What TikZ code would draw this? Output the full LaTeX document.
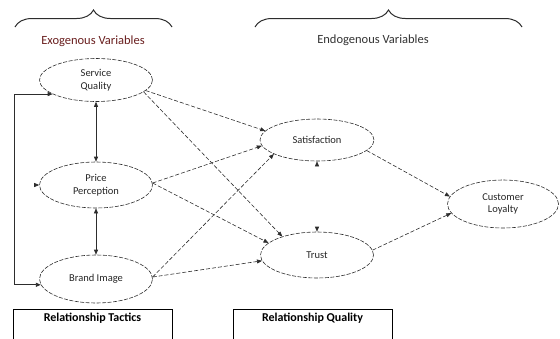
\documentclass[tikz,border=0pt]{standalone}
\usepackage{fontspec}
\setmainfont{Carlito}
\usepackage{xcolor}
\usetikzlibrary{shapes.geometric,arrows.meta,decorations.pathreplacing}
\definecolor{exored}{RGB}{105,30,30}
\definecolor{linegray}{RGB}{45,45,45}

\begin{document}
\begin{tikzpicture}[x=1pt,y=-1pt,
  var/.style={ellipse,draw=linegray,dash pattern=on 4pt off 1.5pt,line width=0.6pt,
    minimum width=113pt,minimum height=43pt,inner sep=0pt,align=center,
    font=\fontsize{10.5}{12.5}\selectfont,text=black!85},
  path/.style={-{Triangle[length=5pt,width=4pt]},draw=linegray,line width=0.6pt,
    dash pattern=on 4pt off 2pt},
  link/.style={{Triangle[length=5pt,width=4pt]}-{Triangle[length=5pt,width=4pt]},
    draw=linegray,line width=0.6pt},
  feed/.style={-{Triangle[length=5pt,width=4pt]},draw=linegray,line width=0.9pt},
  tiponly/.style={draw=linegray,line width=0.6pt,dash pattern=on 0pt off 200pt},
  grp/.style={draw=linegray,line width=1pt,
    decorate,decoration={brace,amplitude=17pt}},
  head/.style={font=\fontsize{12.5}{14}\selectfont},
  relbox/.style={draw=black,line width=0.8pt,anchor=north,minimum width=159pt,
    inner ysep=4pt,text depth=30pt,font=\bfseries\fontsize{12}{14}\selectfont}]
\useasboundingbox (0,0) rectangle (560,338);

% group braces and headers
\draw[grp] (15,27) -- (172,27);
\draw[grp] (255,27) -- (522,27);
\node[head,text=exored] (exo) at (93,41) {Exogenous Variables};
\node[head,text=black!80] (endo) at (373,40) {Endogenous Variables};

% latent variables
\node[var] (sq) at (96,80) {Service\\Quality};
\node[var,minimum height=46pt] (pp) at (96,185) {Price\\Perception};
\node[var,minimum height=48pt] (bi) at (96,279) {Brand Image};
\node[var,minimum width=114pt,minimum height=42pt] (sat) at (317,140) {Satisfaction};
\node[var,minimum width=113pt,minimum height=46pt] (trust) at (317,255) {Trust};
\node[var,minimum width=111pt,minimum height=48pt] (cl) at (503,204) {Customer\\Loyalty};

% bottom boxes
\node[relbox] (tactics) at (92.5,309) {Relationship Tactics};
\node[relbox] (quality) at (312.5,309) {Relationship Quality};

% correlations among exogenous variables
\draw[link] (sq.south) -- (pp.north);
\draw[link] (pp.south) -- (bi.north);
\coordinate (fbl) at (14,0);
\draw[feed] (bi.186 -| fbl) |- (sq.198);
\draw[feed] (bi.186 -| fbl) -- (bi.186);
\draw[tiponly,-{Triangle[length=5pt,width=4pt]}] (pp.west -| fbl) -- (pp.west);

% structural paths
\draw[path] (sq.-12) -- (sat.170);
\draw[path] (sq.-14) -- (trust.152);
\draw[path] (pp.2) -- (sat.186);
\draw[path] (pp.2) -- (trust.166);
\draw[path] (bi.2) -- (sat.198);
\draw[path] (bi.2) -- (trust.186);
\draw[path] (sat.-12) -- (cl.172);
\draw[path] (trust.5) -- (cl.190);
\draw[tiponly,{Triangle[length=5pt,width=4pt]}-{Triangle[length=5pt,width=4pt]}]
  (sat.south) -- (trust.north);
\end{tikzpicture}
\end{document}
